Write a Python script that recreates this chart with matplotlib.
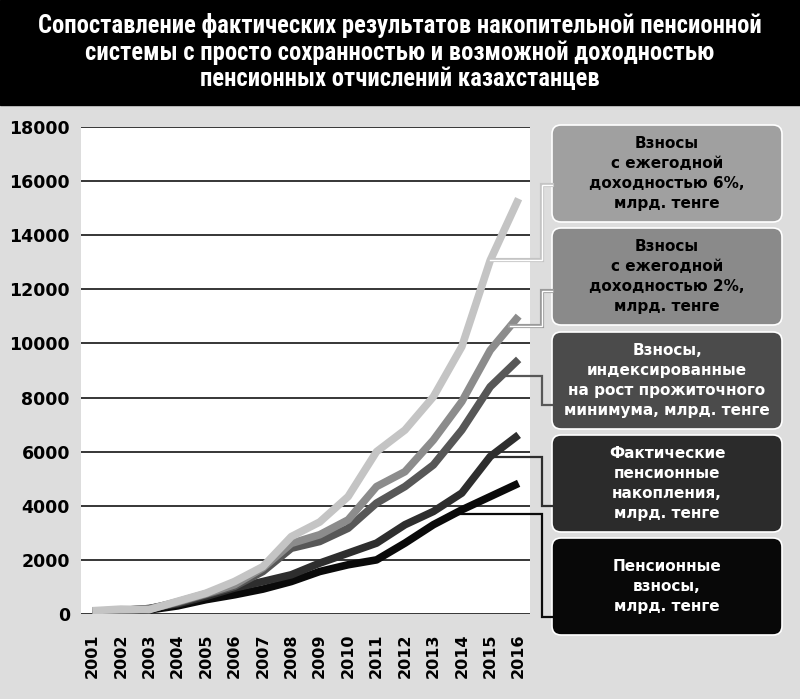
import matplotlib
matplotlib.use('Agg')
from matplotlib import pyplot as plt
from matplotlib.patches import FancyBboxPatch, Rectangle

years = [str(y) for y in range(2001, 2017)]

# млрд. тенге
contrib = [90, 110, 150, 300, 530, 710, 920, 1200, 1570, 1820, 2000, 2620, 3300, 3850, 4340, 4830]
actual = [100, 130, 200, 380, 650, 960, 1200, 1450, 1880, 2250, 2620, 3300, 3790, 4470, 5820, 6620]
indexed = [100, 130, 200, 420, 720, 1020, 1570, 2430, 2680, 3170, 4100, 4710, 5510, 6800, 8400, 9410]
yield2 = [100, 140, 180, 450, 750, 1080, 1700, 2610, 2930, 3480, 4710, 5260, 6430, 7850, 9750, 11010]
yield6 = [120, 180, 160, 470, 770, 1200, 1750, 2860, 3400, 4340, 6000, 6800, 8030, 9880, 13070, 15350]

labels = ['Взносы\nс ежегодной\nдоходностью 6%,\nмлрд. тенге',
          'Взносы\nс ежегодной\nдоходностью 2%,\nмлрд. тенге',
          'Взносы,\nиндексированные\nна рост прожиточного\nминимума, млрд. тенге',
          'Фактические\nпенсионные\nнакопления,\nмлрд. тенге',
          'Пенсионные\nвзносы,\nмлрд. тенге']
series = [yield6, yield2, indexed, actual, contrib]
line_colors = ['#c4c4c4', '#8c8c8c', '#575757', '#2e2e2e', '#0a0a0a']
box_colors = ['#a0a0a0', '#8a8a8a', '#4b4b4b', '#2b2b2b', '#080808']
text_colors = ['black', 'black', 'white', 'white', 'white']

title = ('Сопоставление фактических результатов накопительной пенсионной\n'
         'системы с просто сохранностью и возможной доходностью\n'
         'пенсионных отчислений казахстанцев')

W, H = 800, 699
fig = plt.figure(figsize=(W / 100, H / 100), dpi=100)
fig.patch.set_facecolor('#dddddd')

ax = fig.add_axes([81 / W, 1 - 614 / H, 449 / W, 487 / H])
ax.set_facecolor('white')
x = list(range(len(years)))
for s, c in zip(series[::-1], line_colors[::-1]):
    ax.plot(x, s, color=c, lw=5.5, solid_capstyle='butt', solid_joinstyle='round', zorder=3)
ax.set_xlim(-0.4, 15.4)
ax.set_ylim(0, 18000)
ax.set_yticks(range(0, 18001, 2000))
ax.set_yticklabels([str(v) for v in range(0, 18001, 2000)], fontsize=12.5, fontweight='bold')
ax.set_xticks(x)
ax.set_xticklabels(years, rotation=90, fontsize=11.5, fontweight='heavy')
ax.tick_params(length=0)
ax.tick_params(axis='y', pad=8)
ax.tick_params(axis='x', pad=14)
ax.grid(axis='y', color='black', lw=1.1, zorder=1)
for sp in ax.spines.values():
    sp.set_visible(False)

# overlay in pixel coordinates for title band, boxes and connectors
ov = fig.add_axes([0, 0, 1, 1], zorder=5)
ov.set_xlim(0, W)
ov.set_ylim(H, 0)
ov.axis('off')
ov.patch.set_visible(False)

ov.add_patch(Rectangle((0, 0), W, 105, color='black'))
t = ov.text(400, 52, title, ha='center', va='center', color='white', fontsize=18,
            fontweight='bold', fontstretch='condensed',
            family=['Roboto Condensed', 'Liberation Sans Narrow', 'DejaVu Sans'])
# squeeze the title into the band width
fig.canvas.draw()
bb = t.get_window_extent()
fs = 18 * 725 / bb.width
t.set_fontsize(fs)
t.set_linespacing(27 / (fs * 100 / 72))

box_tops = [125, 228, 332, 435, 538]
box_h = 97
box_x0, box_x1 = 552, 782
# where each connector leaves its line (year index, fractional)
conn_at = [14.0, 14.7, 14.4, 14.0, 12.7]
conn_box_y = [185, 291, 405, 506, 617]

to_ov = ov.transData.inverted()
for i in range(5):
    y0 = box_tops[i]
    ov.add_patch(FancyBboxPatch((box_x0, y0), box_x1 - box_x0, box_h,
                                boxstyle='round,pad=0,rounding_size=9',
                                fc=box_colors[i], ec='white', lw=1.2))
    ov.text((box_x0 + box_x1) / 2, y0 + box_h / 2, labels[i], ha='center', va='center',
            color=text_colors[i], fontsize=11, fontweight='bold', linespacing=1.42)

    # connector from line to box
    xi = conn_at[i]
    k = int(xi)
    f = xi - k
    yv = series[i][k] + f * (series[i][k + 1] - series[i][k])
    px, py = to_ov.transform(ax.transData.transform((xi, yv)))
    xs = [px, 542, 542, box_x0]
    ys = [py, py, conn_box_y[i], conn_box_y[i]]
    if i < 2:
        ov.plot(xs, ys, color=line_colors[i] if i == 0 else '#9a9a9a', lw=3, solid_joinstyle='miter')
        ov.plot(xs, ys, color='white', lw=1, solid_joinstyle='miter')
    else:
        ov.plot(xs, ys, color=line_colors[i], lw=1.6, solid_joinstyle='miter')

fig.savefig('out.png', dpi=100, facecolor=fig.get_facecolor())
